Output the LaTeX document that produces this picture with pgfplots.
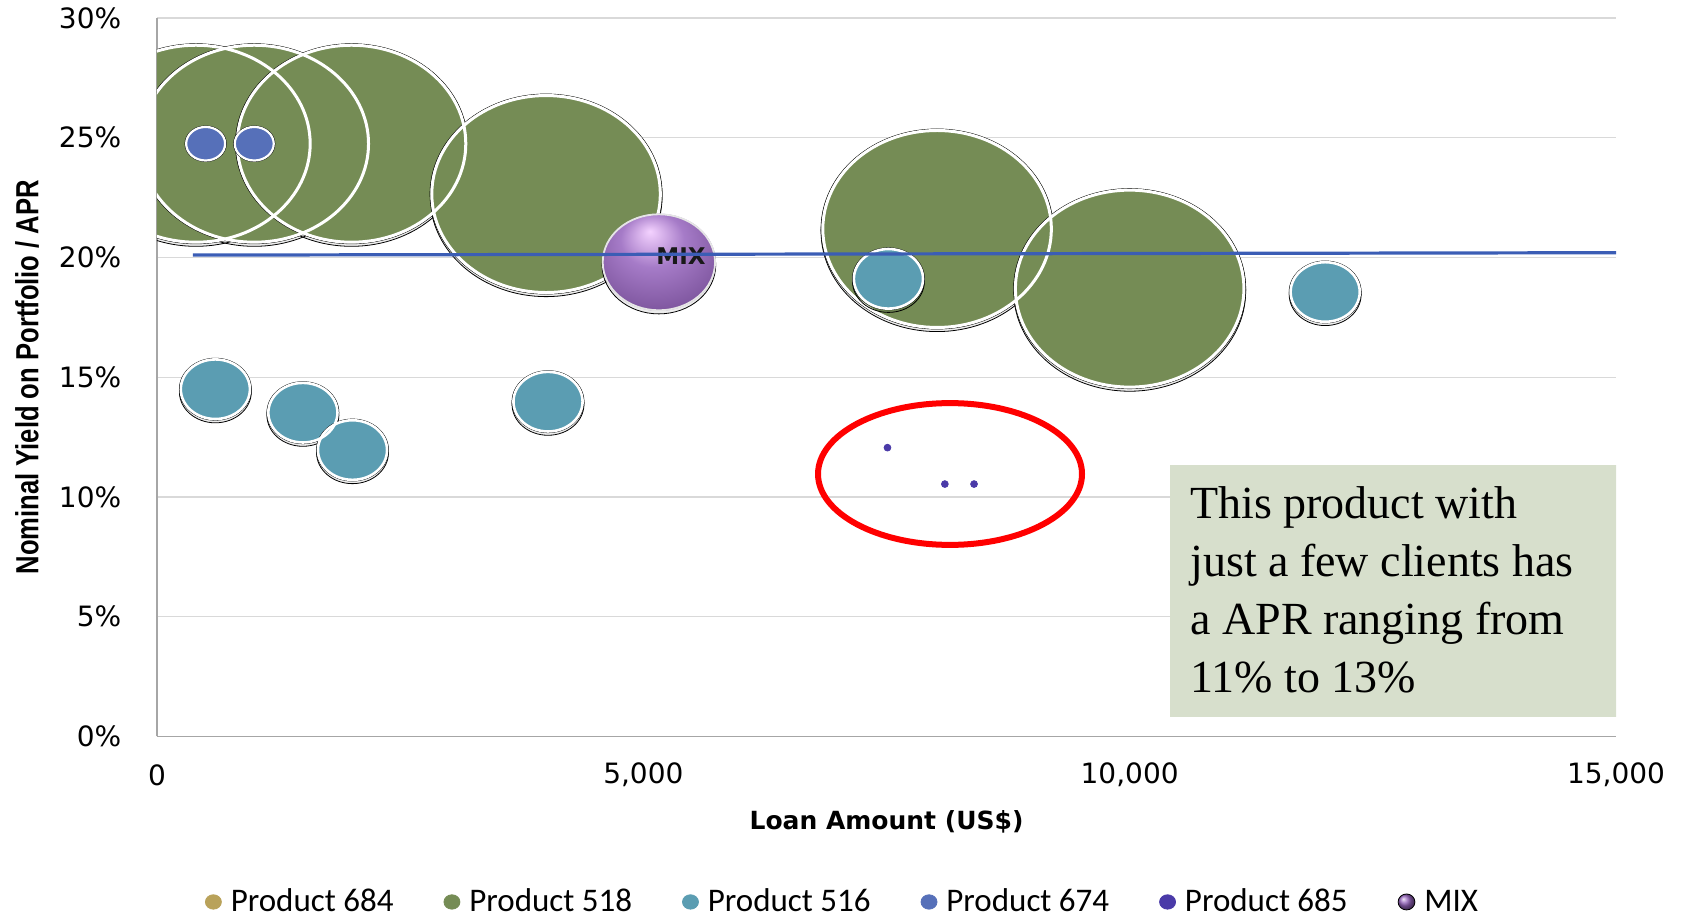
\documentclass[border=0pt]{standalone}
\usepackage{fontspec}
\usepackage{pgfplots}
\usepackage{pgfplotstable}
\pgfplotsset{compat=1.18}
\setmainfont{Liberation Serif}
\newfontfamily\tickfont{DejaVu Sans}
\newfontfamily\ylabfont[FakeStretch=0.8]{Liberation Sans}
\newfontfamily\legfont{Carlito}
\newfontfamily\boxfont{Liberation Serif}

\definecolor{cA}{HTML}{B9A25A}
\definecolor{cB}{HTML}{758C55}
\definecolor{cC}{HTML}{5B9DB2}
\definecolor{cD}{HTML}{5670B9}
\definecolor{cE}{HTML}{4A3AA8}
\definecolor{mixcol}{HTML}{9664BE}
\definecolor{mixhl}{HTML}{F4D2FF}
\definecolor{mixdark}{HTML}{4A2A62}
\definecolor{linecol}{HTML}{3B5DB5}
\definecolor{boxgreen}{HTML}{D7DFCC}
\definecolor{gridgray}{HTML}{D9D9D9}
\definecolor{axisgray}{HTML}{A6A6A6}

\pgfdeclareradialshading{mixball}{\pgfpoint{-4bp}{16bp}}{color(0bp)=(mixhl); color(14bp)=(mixcol!85!white); color(34bp)=(mixcol!80!black); color(50bp)=(mixdark)}
\pgfdeclareplotmark{mixball}{\pgfpathcircle{\pgfpointorigin}{\pgfplotmarksize}\pgfshadepath{mixball}{0}\pgfusepath{discard}}

\pgfplotstableread{
x y
400 24.75
1000 24.75
2000 24.75
4000 22.65
8020 21.19
10000 18.70
}\greendata
\pgfplotstableread{
x y
600 14.50
1500 13.52
2010 11.96
4020 13.98
7520 19.11
12010 18.56
}\tealdata
\pgfplotstableread{
x y
500 24.75
1000 24.75
}\bluedata
\pgfplotstableread{
x y
7510 12.06
8100 10.54
8400 10.54
}\purpledata
\pgfplotstableread{
x y
5160 19.80
}\mixdata
\pgfplotstableread{
x y
370 20.10
15000 20.20
}\linedata

\pgfplotsset{
  bshadow/.style={only marks, mark=*, mark size=#1, forget plot,
    mark options={xscale=1.16, yshift=-1.3pt, fill=black, fill opacity=0.07, draw=none}},
  bfill/.style 2 args={only marks, mark=*, mark size=#2, forget plot,
    mark options={xscale=1.16, fill=#1, draw=none}},
  bline/.style 2 args={only marks, mark=o, mark size=#2, forget plot,
    mark options={xscale=1.16, draw=white, fill=none, line width=#1}},
}

\begin{document}
\begin{tikzpicture}
\useasboundingbox (-78.5pt,-91.25pt) rectangle (765pt,368.25pt);
\begin{axis}[
  at={(0,0)}, anchor=south west,
  scale only axis, width=729.5pt, height=359.25pt,
  xmin=0, xmax=15000, ymin=0, ymax=30,
  scaled x ticks=false, scaled y ticks=false,
  axis x line*=bottom, axis y line*=left,
  axis line style={draw=axisgray, line width=0.7pt, -},
  clip marker paths=true,
  xtick={0,5000,10000,15000},
  xticklabels={0,{5,000},{10,000},{15,000}},
  ytick={0,5,10,15,20,25,30},
  yticklabels={0\%,5\%,10\%,15\%,20\%,25\%,30\%},
  ymajorgrids, grid style={draw=gridgray, line width=0.7pt},
  major tick length=0pt,
  yticklabel style={font=\tickfont\fontsize{14}{16}\selectfont, anchor=east, inner sep=0pt, xshift=-17.7pt},
  xticklabel style={font=\tickfont\fontsize{14}{16}\selectfont, anchor=center, inner sep=0pt, yshift=-19.2pt},
  xlabel={Loan Amount (US\$)},
  xlabel style={font=\tickfont\bfseries\fontsize{12.5}{14}\selectfont, at={(axis description cs:0.5,-0.1191)}, anchor=center},
  ylabel={Nominal Yield on Portfolio / APR},
  ylabel style={font=\ylabfont\bfseries\fontsize{16}{18}\selectfont, at={(axis description cs:-0.0891,0.5)}, anchor=center},
  legend columns=6,
  legend style={at={(axis description cs:0.0329,-0.2303)}, anchor=west, draw=none, fill=none,
    inner sep=0pt, outer sep=0pt,
    font=\legfont\fontsize{16.5}{18}\selectfont,
    nodes={inner sep=0pt},
    /tikz/every odd column/.append style={column sep=4.5pt},
    /tikz/every even column/.append style={column sep=25pt}},
]
% Product 518
\addplot[bshadow=50pt] table {\greendata};
\addplot[bfill={cB}{50pt}] table {\greendata};
\addplot[bline={1.5pt}{49.25pt}] table {\greendata};
% Product 516
\addplot[bshadow=15.5pt] table {\tealdata};
\addplot[bfill={cC}{15.5pt}] table {\tealdata};
\addplot[bline={1.3pt}{14.9pt}] table {\tealdata};
% Product 674
\addplot[bfill={cD}{8.9pt}] table {\bluedata};
\addplot[bline={1.1pt}{8.4pt}] table {\bluedata};
% MIX
\addplot[bshadow=24.5pt] table {\mixdata};
\addplot[only marks, mark=mixball, mark size=24.3pt, forget plot, mark options={xscale=1.17}] table {\mixdata};
\addplot[only marks, mark=o, mark size=24pt, forget plot, mark options={xscale=1.17, draw=white!80!gray, line width=0.9pt}] table {\mixdata};
% Product 685
\addplot[cE, only marks, mark=*, mark size=1.7pt, forget plot, mark options={fill=cE, draw=none}] table {\purpledata};
\node[font=\tickfont\bfseries\fontsize{11.5}{13}\selectfont, text=black!90] at (axis cs:5387,20.06) {MIX};
% average line
\addplot[linecol, line width=1.6pt, no marks, forget plot] table {\linedata};
% annotation
\draw[red, line width=3pt] (axis cs:8153,10.96) ellipse [x radius=1357, y radius=2.96];
\fill[boxgreen] (axis cs:10414,0.81) rectangle (axis cs:15030,11.34);
\node[anchor=north west, align=left, inner sep=0pt, font=\boxfont\fontsize{23}{29}\selectfont]
  at (axis cs:10414,11.34) [xshift=10pt, yshift=-10.8pt]
  {This product with\\just a few clients has\\a APR ranging from\\11\% to 13\%};
% legend
\addlegendimage{legend image code/.code={\fill[cA] (0pt,0pt) ellipse [x radius=4pt, y radius=3.6pt];}}
\addlegendentry{Product 684}
\addlegendimage{legend image code/.code={\fill[cB] (0pt,0pt) ellipse [x radius=4pt, y radius=3.6pt];}}
\addlegendentry{Product 518}
\addlegendimage{legend image code/.code={\fill[cC] (0pt,0pt) ellipse [x radius=4pt, y radius=3.6pt];}}
\addlegendentry{Product 516}
\addlegendimage{legend image code/.code={\fill[cD] (0pt,0pt) ellipse [x radius=4pt, y radius=3.6pt];}}
\addlegendentry{Product 674}
\addlegendimage{legend image code/.code={\fill[cE] (0pt,0pt) ellipse [x radius=4pt, y radius=3.6pt];}}
\addlegendentry{Product 685}
\addlegendimage{legend image code/.code={\shade[ball color=mixcol] (0pt,0pt) ellipse [x radius=4.2pt, y radius=4pt];}}
\addlegendentry{MIX}
\end{axis}
\end{tikzpicture}
\end{document}
